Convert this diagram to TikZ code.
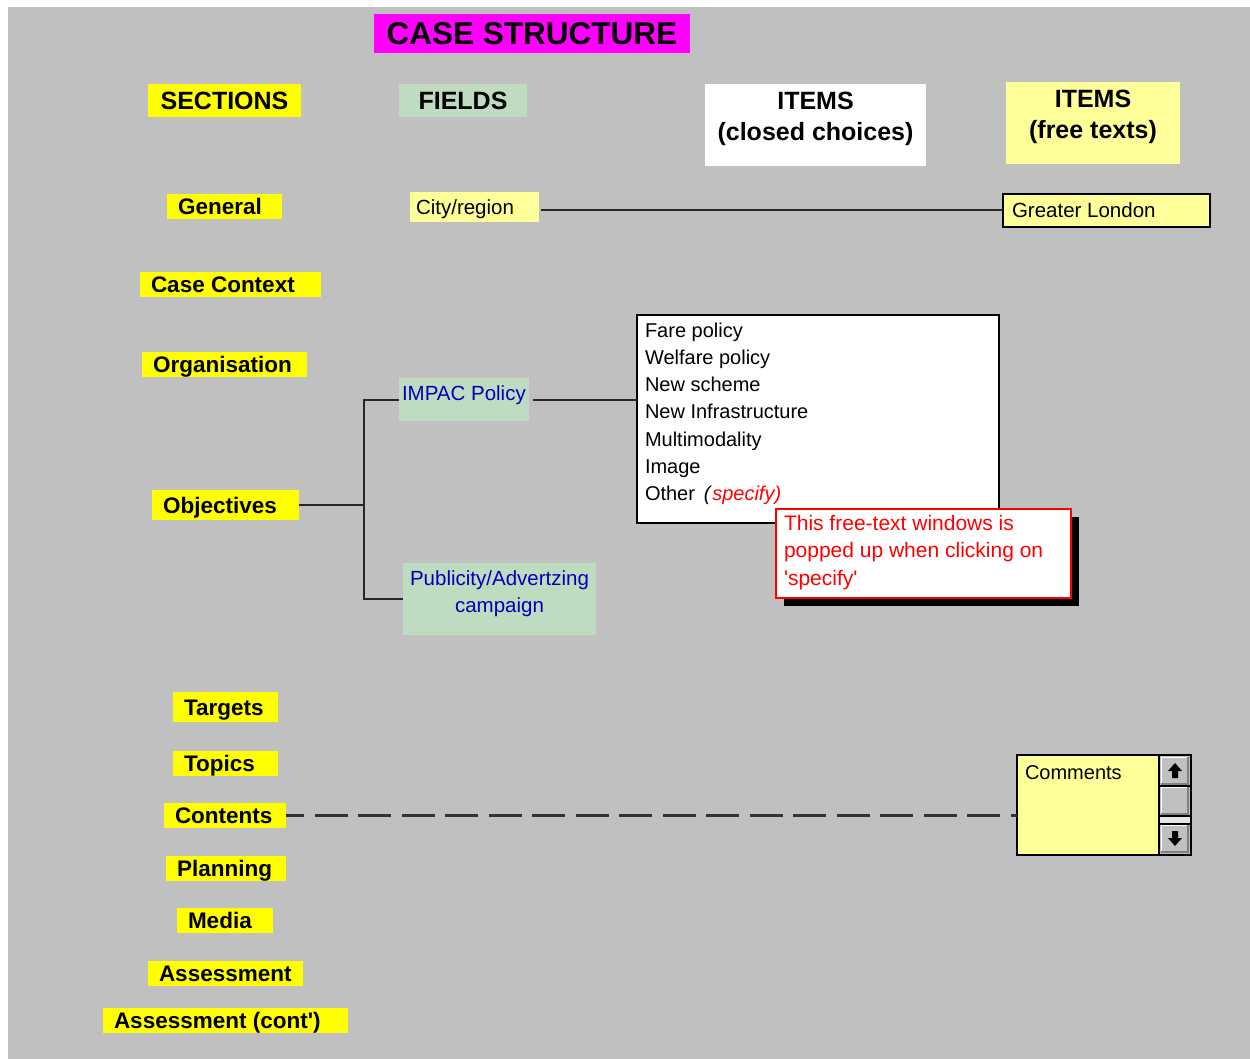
\documentclass[tikz,border=0pt]{standalone}
\usepackage{fontspec}
\setmainfont{Liberation Sans}
\usetikzlibrary{calc,shadows}
\definecolor{bg}{HTML}{C0C0C0}
\definecolor{secy}{HTML}{FFFF00}
\definecolor{fieldg}{HTML}{C0DCC0}
\definecolor{paley}{HTML}{FFFF99}
\definecolor{mag}{HTML}{FF00FF}
\definecolor{navyt}{HTML}{0000B8}
\definecolor{btnd}{HTML}{808080}
\newcommand\fs[2]{\fontsize{#1}{#2}\selectfont}
\newcommand\secbox[6]{\node[sect, minimum height=#5] (#1) at (#2,#3) {\makebox[\dimexpr#4pt-22pt\relax][l]{#6}};}
\begin{document}
\begin{tikzpicture}[x=1pt,y=-1pt,
  every node/.style={inner sep=0pt, outer sep=0pt, anchor=north west},
  sect/.style={fill=secy, inner xsep=11pt, text height=16pt, text depth=0pt, font=\fs{22.5}{27}\bfseries},
  head/.style={font=\fs{25}{31}\bfseries},
  fieldtxt/.style={font=\fs{20.5}{27}},
  conn/.style={line width=2pt, black!85},
  dashline/.style={line width=2.2pt, black!80, dash pattern=on 33pt off 10.5pt, dash phase=15pt},
  btn/.style={fill=bg}
]
\useasboundingbox (0,0) rectangle (1250,1059);
\fill[white] (0,0) rectangle (1250,1059);
\fill[bg] (8,7) rectangle (1250,1059);

% title and headers
\node[fill=mag, minimum width=316, minimum height=39, text height=22.6pt, text depth=0pt, font=\fs{31.5}{36}\bfseries] (title) at (374,14) {CASE STRUCTURE};
\node[head, fill=secy, minimum width=153, minimum height=33, text height=18pt, text depth=0pt] (hsec) at (148,84) {SECTIONS};
\node[head, fill=fieldg, minimum width=128, minimum height=33, text height=18pt, text depth=0pt] (hfld) at (399,84) {FIELDS};
\node[head, fill=white, minimum width=221, text height=26pt, text depth=56pt] (hic) at (705,84) {\begin{tabular}[t]{@{}c@{}}ITEMS\\(closed choices)\end{tabular}};
\node[head, fill=paley, minimum width=174, text height=26pt, text depth=56pt] (hif) at (1006,82) {\begin{tabular}[t]{@{}c@{}}ITEMS\\(free texts)\end{tabular}};

% sections
\secbox{gen}{167}{194}{115}{25}{General}
\secbox{ctx}{140}{272}{181}{25}{Case Context}
\secbox{org}{142}{352}{165}{25}{Organisation}
\secbox{obj}{152}{490}{147}{30}{Objectives}
\secbox{tar}{173}{692}{105}{30}{Targets}
\secbox{top}{173}{751}{105}{25}{Topics}
\secbox{con}{164}{803}{122}{25}{Contents}
\secbox{pla}{166}{856}{120}{25}{Planning}
\secbox{med}{177}{908}{96}{25}{Media}
\secbox{ass}{148}{961}{155}{25}{Assessment}
\secbox{asc}{103}{1008}{245}{25}{Assessment (cont\textquotesingle)}

% fields
\node[fieldtxt, fill=paley, inner xsep=6pt, minimum height=30, text height=14.7pt, text depth=0pt] (cit) at (410,192) {\makebox[117pt][l]{City/region}};
\node[fieldtxt, fill=paley, draw=black, line width=1.5pt, inner xsep=9pt, minimum height=33, text height=14.7pt, text depth=0pt] (gl) at (1003,194) {\makebox[189pt][l]{Greater London}};
\node[fieldtxt, fill=fieldg, text=navyt, inner xsep=3pt, text height=22pt, text depth=21pt] (imp) at (399,378) {\makebox[124pt][l]{IMPAC Policy}};
\node[fieldtxt, fill=fieldg, text=navyt, minimum width=193, text height=22pt, text depth=50pt] (pub) at (403,563) {\begin{tabular}[t]{@{}c@{}}Publicity/Advertzing\\campaign\end{tabular}};

% closed choice list
\node[font=\fs{20}{27.3}, fill=white, draw=black, line width=1.5pt, inner xsep=8pt, text height=22pt, text depth=186pt] (lst) at (637,315) {\makebox[346pt][l]{\begin{tabular}[t]{@{}l@{}}Fare policy\\Welfare policy\\New scheme\\New Infrastructure\\Multimodality\\Image\\Other~\,\textit{(}\textcolor{red}{\textit{specify)}}\end{tabular}}};

% popup
\node[font=\fs{21}{27.5}, text=red, fill=white, draw=red, line width=2pt, inner xsep=8pt, text height=21pt, text depth=68pt,
  drop shadow={shadow xshift=8pt, shadow yshift=-8pt, opacity=1, fill=black}] (pop) at (776,509) {\makebox[279pt][l]{\begin{tabular}[t]{@{}l@{}}This free-text windows is\\popped up when clicking on\\\textquotesingle specify\textquotesingle\end{tabular}}};

% comments box
\node[fieldtxt, font=\fs{20}{27}, fill=paley, draw=black, line width=1.5pt, inner xsep=8pt, text height=24pt, text depth=76pt] (com) at (1017,755) {\makebox[158pt][l]{Comments}};
% scrollbar
\draw[line width=1.5pt, fill=bg] (1159,755) rectangle (1191,855);
\fill[gray!20] (1160,816) rectangle (1190,824);
\foreach \ya/\yb in {757/785, 787/815, 825/853}{
  \fill[bg] (1161,\ya) rectangle (1189,\yb);
  \draw[white, line width=1.2pt] (1161.6,\yb) -- (1161.6,\ya+0.6) -- (1189,\ya+0.6);
  \draw[btnd, line width=1.6pt] (1161,\yb-0.8) -- (1188.2,\yb-0.8) -- (1188.2,\ya);
}
\draw[black, line width=1.2pt] (1160,786) -- (1190,786) (1160,816) -- (1190,816) (1160,824) -- (1190,824);
\fill[black] (1175,763) -- (1182,771) -- (1178,771) -- (1178,778) -- (1172,778) -- (1172,771) -- (1168,771) -- cycle;
\fill[black] (1175,846) -- (1182,838) -- (1178,838) -- (1178,831) -- (1172,831) -- (1172,838) -- (1168,838) -- cycle;

% connectors
\draw[conn] ([xshift=2pt]cit.east |- gl.west) -- (gl.west);
\draw[conn] ([xshift=4pt]imp.east) -- (imp.east -| lst.west);
\draw[conn] (obj.east) -- ++(65,0) coordinate (bk);
\draw[conn] (imp.west) -| (bk) |- (pub.west);
\draw[dashline] (con.east) -- (con.east -| com.west);
\end{tikzpicture}
\end{document}
